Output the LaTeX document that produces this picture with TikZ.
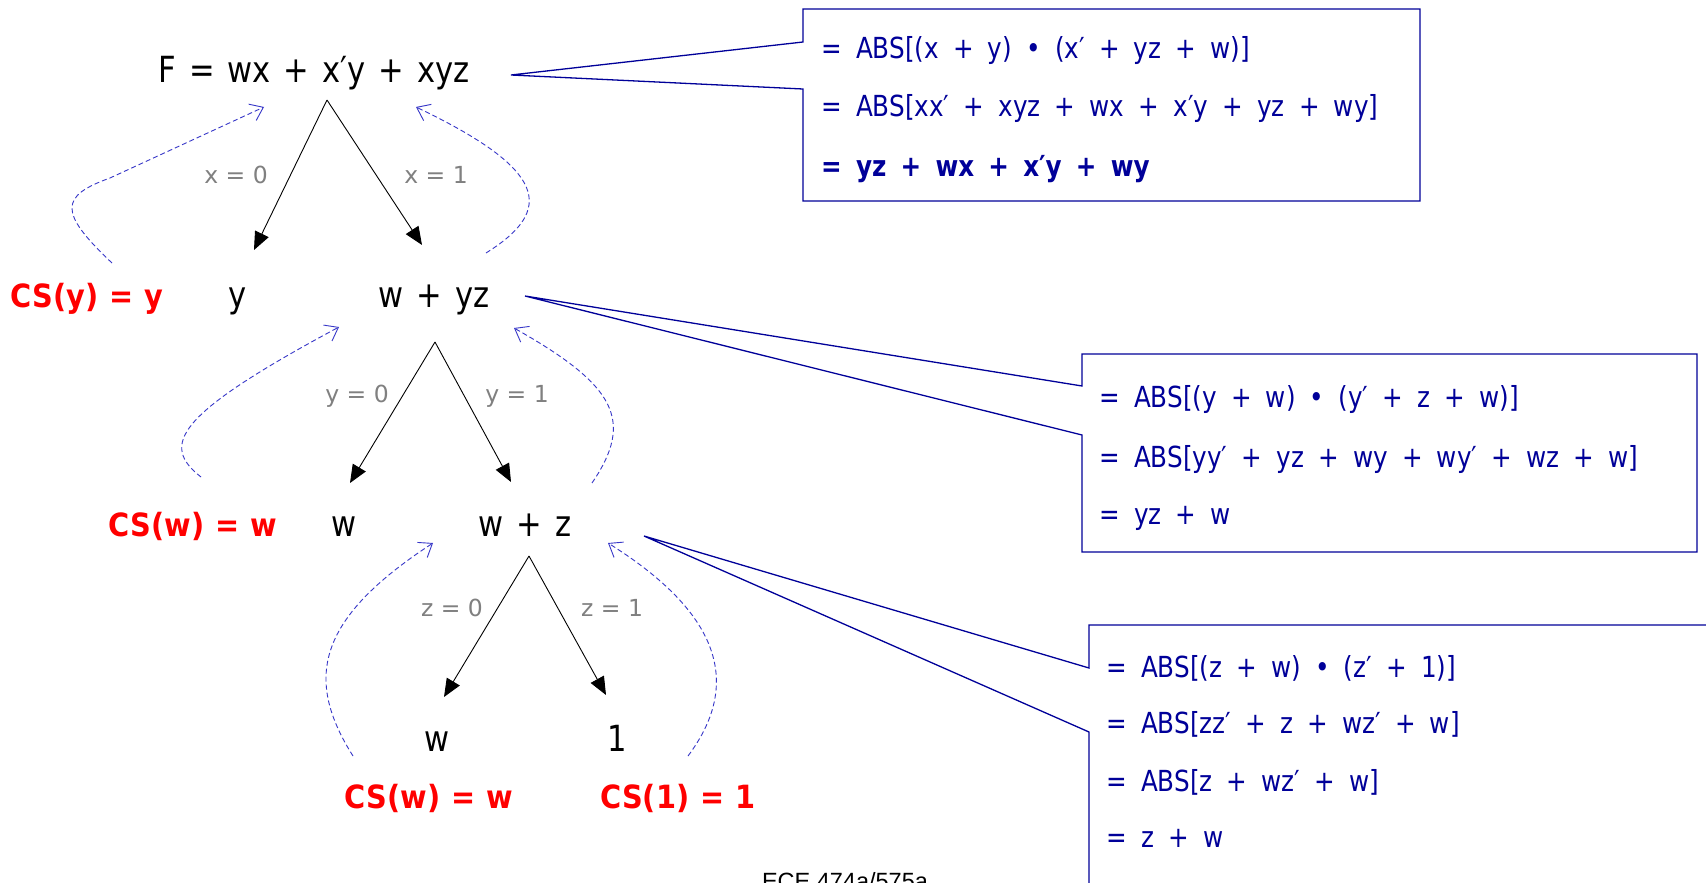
\documentclass[tikz,border=0pt]{standalone}
\usepackage{fontspec}
\setmainfont{DejaVu Sans}
\newfontfamily\bigf[FakeStretch=0.85]{DejaVu Sans}
\newfontfamily\boxf[FakeStretch=0.85]{DejaVu Sans}
\newfontfamily\csf[FakeStretch=0.9]{DejaVu Sans}
\newfontfamily\lblf{DejaVu Sans}
\newfontfamily\footf{Liberation Sans}
\newcommand\bigspc{\spaceskip 13pt\relax}
\newcommand\boxspc{\spaceskip 14.2pt\relax}
\newcommand\csspc{\spaceskip 11pt\relax}
\usetikzlibrary{arrows.meta}
\definecolor{navyc}{RGB}{0,0,153}
\definecolor{dashc}{RGB}{55,55,200}
\definecolor{grayc}{RGB}{128,128,128}
\definecolor{redc}{RGB}{255,0,0}
\begin{document}
\begin{tikzpicture}[x=1pt,y=-1pt,
  txt/.style={inner sep=0pt, anchor=base},
  bigtxt/.style={txt, font={\bigf\fontsize{36}{42}\selectfont\bigspc}},
  cstxt/.style={txt, text=redc, font={\csf\bfseries\fontsize{32}{38}\selectfont\csspc}},
  lbl/.style={txt, text=grayc, font={\lblf\fontsize{23.5}{28}\selectfont}},
  boxtxt/.style={inner sep=0pt, anchor=base west, text=navyc, font={\boxf\fontsize{29}{34}\selectfont\boxspc}},
  boxbold/.style={boxtxt, font={\boxf\bfseries\fontsize{29}{34}\selectfont\boxspc}},
  callout/.style={draw=navyc, line width=1.3pt, fill=white, line join=miter},
  treearrow/.style={line width=0.9pt, -{Triangle[length=18pt,width=15pt]}},
  backarrow/.style={draw=dashc, line width=0.9pt, dash pattern=on 5pt off 3pt, -{Straight Barb[length=12pt,width=18pt]}}
]
\useasboundingbox (0,0) rectangle (1706,883);
\fill[white] (0,0) rectangle (1706,883);

% ---------- text nodes ----------
\node[bigtxt] (F) at (314,83) {F = wx + x′y + xyz};
\node[cstxt] (cs1) at (87,307) {CS(y) = y};
\node[bigtxt] (n1l) at (238,307) {y};
\node[bigtxt] (n1r) at (434,307) {w + yz};
\node[cstxt] (cs2) at (193,536) {CS(w) = w};
\node[bigtxt] (n2l) at (344,536) {w};
\node[bigtxt] (n2r) at (525,536) {w + z};
\node[bigtxt] (n3l) at (437,751) {w};
\node[bigtxt] (n3r) at (617,751) {1};
\node[cstxt] (cs3l) at (429,808) {CS(w) = w};
\node[cstxt] (cs3r) at (678,808) {CS(1) = 1};

\node[lbl] (x0) at (236,183) {x = 0};
\node[lbl] (x1) at (436,183) {x = 1};
\node[lbl] (y0) at (357,402) {y = 0};
\node[lbl] (y1) at (517,402) {y = 1};
\node[lbl] (z0) at (452,616) {z = 0};
\node[lbl] (z1) at (612,616) {z = 1};

% ---------- callouts ----------
\coordinate (tip1) at (511,75);
\coordinate (tip2) at (525,296);
\coordinate (tip3) at (644,536);
\draw[callout] (803,9) -- (1420,9) -- (1420,201) -- (803,201) -- (803,89) -- (tip1) -- (803,42) -- cycle;
\draw[callout] (1082,354) -- (1697,354) -- (1697,552) -- (1082,552) -- (1082,435) -- (tip2) -- (1082,386) -- cycle;
\draw[callout] (1089,625) -- (1730,625) -- (1730,910) -- (1089,910) -- (1089,732) -- (tip3) -- (1089,668) -- cycle;

\node[boxtxt] (b1a) at (821,59) {= ABS[(x + y) • (x′ + yz + w)]};
\node[boxtxt] (b1b) at (821,117) {= ABS[xx′ + xyz + wx + x′y + yz + wy]};
\node[boxbold] (b1c) at (821,176) {= yz + wx + x′y + wy};

\node[boxtxt] (b2a) at (1099,407) {= ABS[(y + w) • (y′ + z + w)]};
\node[boxtxt] (b2b) at (1099,467) {= ABS[yy′ + yz + wy + wy′ + wz + w]};
\node[boxtxt] (b2c) at (1099,524) {= yz + w};

\node[boxtxt] (b3a) at (1106,677) {= ABS[(z + w) • (z′ + 1)]};
\node[boxtxt] (b3b) at (1106,733) {= ABS[zz′ + z + wz′ + w]};
\node[boxtxt] (b3c) at (1106,791) {= ABS[z + wz′ + w]};
\node[boxtxt] (b3d) at (1106,847) {= z + w};

% ---------- tree edges ----------
\coordinate (a1) at (327,100); \coordinate (a1l) at (254,250); \coordinate (a1r) at (422,245);
\coordinate (a2) at (435,342); \coordinate (a2l) at (350,483); \coordinate (a2r) at (511,482);
\coordinate (a3) at (529,556); \coordinate (a3l) at (444,697); \coordinate (a3r) at (606,695);
\draw[treearrow] (a1) -- (a1l);
\draw[treearrow] (a1) -- (a1r);
\draw[treearrow] (a2) -- (a2l);
\draw[treearrow] (a2) -- (a2r);
\draw[treearrow] (a3) -- (a3l);
\draw[treearrow] (a3) -- (a3r);

% ---------- back-propagation arrows ----------
\coordinate (s1l) at (112,263); \coordinate (e1l) at (264,107);
\coordinate (s1r) at (486,253); \coordinate (e1r) at (416,107);
\coordinate (s2l) at (201,477); \coordinate (e2l) at (339,327);
\coordinate (s2r) at (592,483); \coordinate (e2r) at (514,328);
\coordinate (s3l) at (353,756); \coordinate (e3l) at (433,543);
\coordinate (s3r) at (688,756); \coordinate (e3r) at (608,543);
\draw[backarrow] (s1l) .. controls (58,212) and (60,196) .. (110,178) -- (e1l);
\draw[backarrow] (s1r) .. controls (555,210) and (548,170) .. (e1r);
\draw[backarrow] (s2l) .. controls (160,445) and (175,415) .. (e2l);
\draw[backarrow] (s2r) .. controls (635,420) and (615,385) .. (e2r);
\draw[backarrow] (s3l) .. controls (305,680) and (315,620) .. (e3l);
\draw[backarrow] (s3r) .. controls (745,680) and (715,610) .. (e3r);

% ---------- footer ----------
\node[txt, font={\footf\fontsize{23.5}{28}\selectfont}] (foot) at (845,889) {ECE 474a/575a};
\end{tikzpicture}
\end{document}
